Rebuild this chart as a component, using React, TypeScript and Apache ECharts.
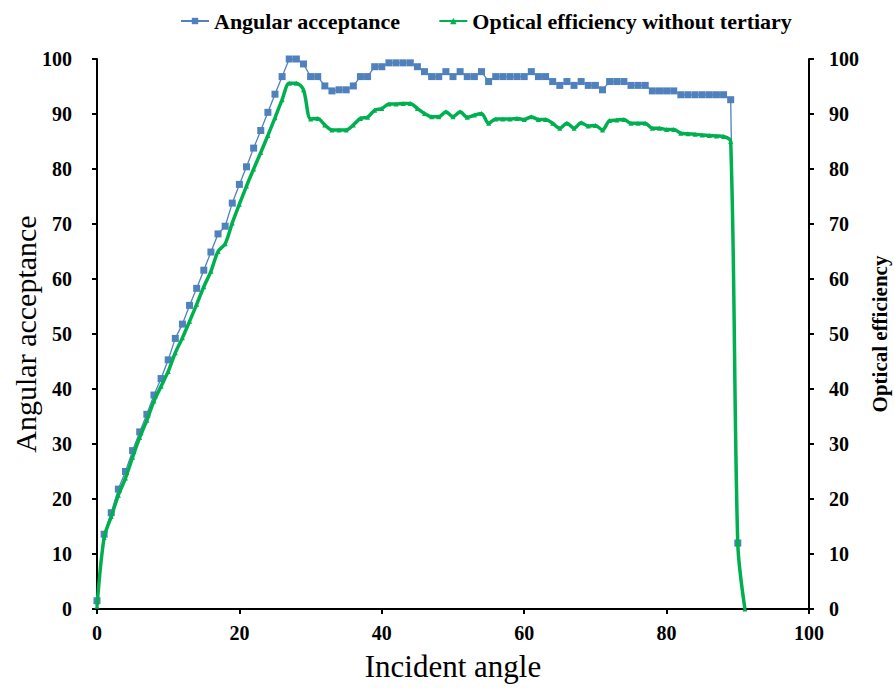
import React, { useEffect, useRef } from "react";
import * as echarts from "echarts";

const angles = [
  0, 1, 2, 3, 4, 5, 6, 7, 8, 9, 10, 11, 12, 13, 14, 15, 16, 17, 18, 19, 20,
  21, 22, 23, 24, 25, 26, 27, 28, 29, 30, 31, 32, 33, 34, 35, 36, 37, 38, 39, 40,
  41, 42, 43, 44, 45, 46, 47, 48, 49, 50, 51, 52, 53, 54, 55, 56, 57, 58, 59, 60,
  61, 62, 63, 64, 65, 66, 67, 68, 69, 70, 71, 72, 73, 74, 75, 76, 77, 78, 79, 80,
  81, 82, 83, 84, 85, 86, 87, 88, 89, 90, 91,
];

const angularAcceptance = [
  1.5, 13.6, 17.5, 21.8, 25.0, 28.8, 32.2, 35.4, 38.9, 41.9, 45.3,
  49.2, 51.8, 55.2, 58.3, 61.6, 64.9, 68.2, 69.6, 73.8, 77.2,
  80.4, 83.8, 87.0, 90.3, 93.6, 96.8, 100, 100, 99.1, 96.8,
  96.8, 95.1, 94.2, 94.4, 94.4, 95.1, 96.8, 96.8, 98.6, 98.6,
  99.3, 99.3, 99.3, 99.3, 98.6, 97.7, 96.8, 96.8, 97.7, 96.8,
  97.7, 96.8, 96.8, 97.7, 95.9, 96.8, 96.8, 96.8, 96.8, 96.8,
  97.7, 96.8, 96.8, 95.9, 95.2, 95.9, 95.2, 95.9, 95.2, 95.2,
  94.4, 95.9, 95.9, 95.9, 95.2, 95.2, 95.2, 94.2, 94.2, 94.2,
  94.2, 93.5, 93.5, 93.5, 93.5, 93.5, 93.5, 93.5, 92.6, 12.0,
];

const opticalEfficiency = [
  0.5, 13.0, 16.8, 20.7, 23.8, 27.6, 31.2, 34.3, 37.8, 40.5, 43.2,
  46.6, 49.3, 52.3, 55.4, 58.6, 61.4, 65.0, 66.4, 70.2, 73.6,
  76.9, 80.0, 83.0, 86.1, 89.3, 92.6, 95.6, 95.6, 94.4, 89.1,
  89.2, 88.0, 87.1, 87.1, 87.1, 88.0, 89.2, 89.4, 90.7, 91.0,
  91.8, 91.8, 91.9, 91.9, 91.0, 90.1, 89.5, 89.5, 90.4, 89.5,
  90.4, 89.4, 89.8, 90.1, 88.3, 89.1, 89.1, 89.1, 89.2, 89.0,
  89.5, 89.0, 89.0, 88.3, 87.4, 88.3, 87.4, 88.4, 87.8, 87.9,
  87.1, 88.8, 88.9, 89.0, 88.3, 88.3, 88.3, 87.4, 87.4, 87.2,
  87.2, 86.5, 86.4, 86.3, 86.2, 86.1, 86.0, 85.9, 85.0, 11.8,
  0,
];

const xTicks = { min: 0, max: 100, interval: 20 };
const yTicks = { min: 0, max: 100, interval: 10 };

const SERIF = "'Liberation Serif', 'Times New Roman', serif";
const BLUE = "#4F81BD";
const GREEN = "#00B050";

export default function App() {
  const ref = useRef<HTMLDivElement>(null);

  useEffect(() => {
    if (!ref.current) return;
    const chart = echarts.init(ref.current, undefined, { renderer: "svg" });

    const axisLine = { show: true, lineStyle: { color: "#000", width: 2 } };
    const axisTick = { show: true, length: 5, inside: false, lineStyle: { color: "#000", width: 2 } };
    const tickLabel = {
      fontFamily: SERIF,
      fontWeight: "bold" as const,
      fontSize: 20,
      color: "#000",
    };

    chart.setOption({
      animation: false,
      backgroundColor: "#fff",
      legend: {
        top: 5,
        left: 175,
        itemGap: 38,
        itemWidth: 28,
        itemHeight: 8,
        textStyle: { fontFamily: SERIF, fontWeight: "bold", fontSize: 22, color: "#000" },
        data: ["Angular acceptance", "Optical efficiency without tertiary"],
      },
      grid: {
        left: 97,
        right: 85,
        top: 59,
        bottom: 79,
        containLabel: false,
        outerBoundsMode: "none",
      },
      xAxis: {
        type: "value",
        min: xTicks.min,
        max: xTicks.max,
        interval: xTicks.interval,
        name: "Incident angle",
        nameLocation: "middle",
        nameGap: 42,
        nameMoveOverlap: false,
        nameTextStyle: { fontFamily: SERIF, fontSize: 31, color: "#000" },
        axisLine,
        axisTick,
        axisLabel: { ...tickLabel, margin: 14 },
        splitLine: { show: false },
      },
      yAxis: [
        {
          type: "value",
          position: "left",
          min: yTicks.min,
          max: yTicks.max,
          interval: yTicks.interval,
          name: "Angular acceptance",
          nameLocation: "middle",
          nameGap: 57,
          nameMoveOverlap: false,
          nameRotate: 90,
          nameTextStyle: { fontFamily: SERIF, fontSize: 30, color: "#000" },
          axisLine,
          axisTick,
          axisLabel: { ...tickLabel, margin: 25 },
          splitLine: { show: false },
        },
        {
          type: "value",
          position: "right",
          min: yTicks.min,
          max: yTicks.max,
          interval: yTicks.interval,
          name: "Optical efficiency",
          nameLocation: "middle",
          nameGap: 60,
          nameRotate: 90,
          nameTextStyle: { fontFamily: SERIF, fontSize: 21, fontWeight: "bold", color: "#000" },
          axisLine,
          axisTick,
          axisLabel: { ...tickLabel, margin: 20 },
          splitLine: { show: false },
        },
      ],
      series: [
        {
          name: "Angular acceptance",
          type: "line",
          yAxisIndex: 0,
          data: angularAcceptance.map((v, i) => [angles[i], v]),
          symbol: "rect",
          symbolSize: 7,
          lineStyle: { color: BLUE, width: 1.3 },
          itemStyle: { color: BLUE },
          z: 2,
        },
        {
          name: "Optical efficiency without tertiary",
          type: "line",
          yAxisIndex: 1,
          data: opticalEfficiency.map((v, i) => [angles[i], v]),
          smooth: 0.3,
          symbol: "triangle",
          symbolSize: 5,
          lineStyle: { color: GREEN, width: 3.5 },
          itemStyle: { color: GREEN },
          z: 3,
        },
      ],
    });

    return () => chart.dispose();
  }, []);

  return (
    <div
      ref={ref}
      style={{ position: "fixed", left: 0, top: 0, width: 894, height: 688, background: "#fff" }}
    />
  );
}
